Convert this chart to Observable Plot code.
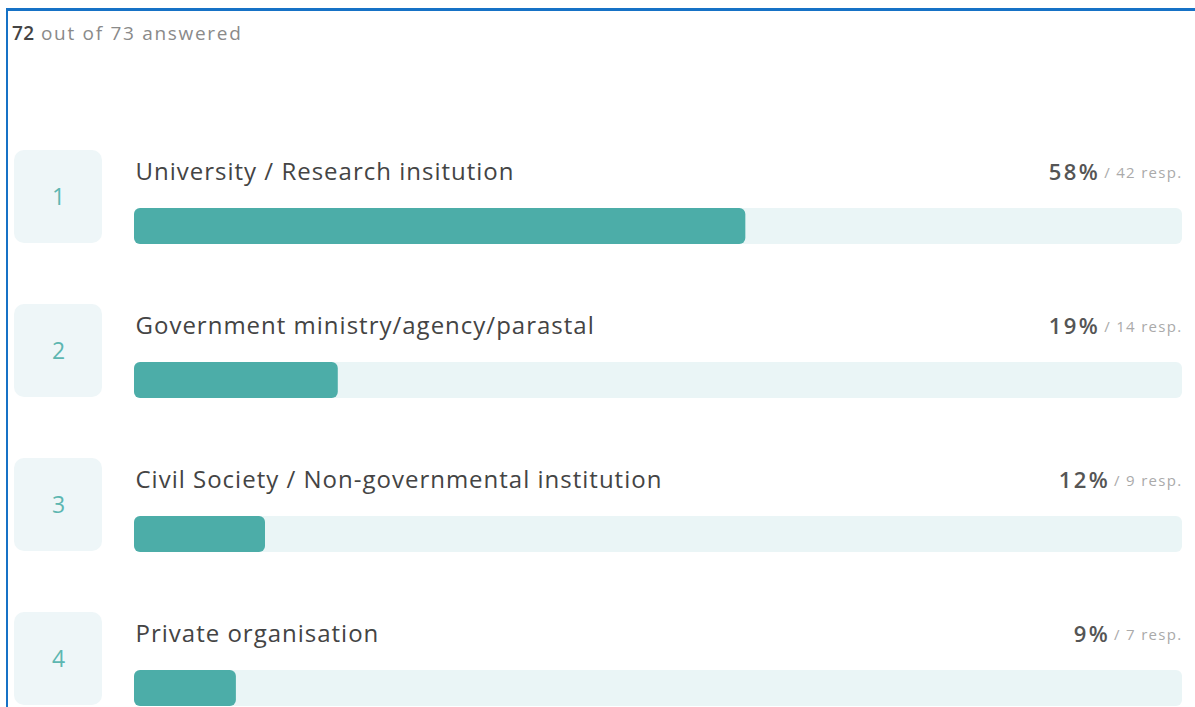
<!DOCTYPE html>
<html>
<head>
<meta charset="utf-8">
<script src="https://cdn.jsdelivr.net/npm/d3@7"></script>
<script src="https://cdn.jsdelivr.net/npm/@observablehq/plot@0.6"></script>
<style>
  html, body { margin: 0; padding: 0; background: #fff; width: 1195px; height: 707px; overflow: hidden; }
  body { font-family: "Open Sans", sans-serif; position: relative; }
  #frame { position: absolute; left: 6px; top: 8px; width: 1187px; height: 720px;
           border-top: 3px solid #1672c6; border-left: 2px solid #1672c6; pointer-events: none; z-index: 2; }
  #head { position: relative; height: 60px; }
  #answered { position: absolute; left: 12px; top: 20px; font-size: 19px; color: #8a8a8a; letter-spacing: 1.7px; }
  #answered b { color: #444; font-weight: 600; letter-spacing: 0.3px; }
  #chart { display: block; }
  svg [font-size="24"] { letter-spacing: 1.0px; }
  svg [font-size="15"] { letter-spacing: 1.3px; }
  svg [font-size="22"][font-weight="600"] { letter-spacing: 2.4px; }
</style>
</head>
<body>
<div id="frame"></div>
<div id="head"><div id="answered"></div></div>
<div id="chart"></div>
<script>
const categories = [
  "University / Research insitution",
  "Government ministry/agency/parastal",
  "Civil Society / Non-governmental institution",
  "Private organisation"
];
const ranks = [1, 2, 3, 4];
const percents = [58, 19, 12, 9];
const responses = [42, 14, 9, 7];
const answered = 72;
const total = 73;

document.getElementById("answered").innerHTML =
  `<b>${answered}</b> out of ${total} answered`;

const rows = categories.map((label, i) => ({
  label,
  rank: ranks[i],
  pct: percents[i],
  resp: responses[i],
  share: responses[i] / answered * 100
}));

const FONT = '"Open Sans", sans-serif';
const ctx = document.createElement("canvas").getContext("2d");
ctx.font = `15px ${FONT}`;
const respText = d => `/ ${d.resp} resp.`;
const respWidth = d => ctx.measureText(respText(d)).width + respText(d).length * 1.3;

const teal = "#4cada8";
const track = "#eaf5f6";
const boxFill = "#eef6f8";

const pctMarks = rows.map(d => Plot.text([d], {
  x: () => 100, y: "label", text: d => `${d.pct}%`,
  textAnchor: "end", dy: -55, dx: -(respWidth(d) + 4),
  fontSize: 22, fontWeight: 600, fill: "#555"
}));

const chart = Plot.plot({
  width: 1195,
  height: 647,
  margin: 0,
  style: { fontFamily: FONT, background: "transparent" },
  x: { domain: [0, 100], range: [134, 1182], axis: null },
  y: { domain: categories, range: [90, 706], padding: 0, axis: null },
  marks: [
    // rank boxes
    Plot.barX(rows, {
      x1: () => 0, x2: () => 0, y: "label",
      insetLeft: -120, insetRight: 32, insetTop: 0, insetBottom: 61,
      rx: 10, fill: boxFill
    }),
    Plot.text(rows, {
      x: () => 0, y: "label", text: "rank", dx: -76, dy: -30,
      fontSize: 23, fill: "#5db6b1"
    }),
    // track
    Plot.barX(rows, {
      x1: () => 0, x2: () => 100, y: "label",
      insetTop: 58, insetBottom: 60, rx: 6, fill: track
    }),
    // value bar
    Plot.barX(rows, {
      x1: () => 0, x2: "share", y: "label",
      insetTop: 58, insetBottom: 60, rx: 6, fill: teal
    }),
    // labels
    Plot.text(rows, {
      x: () => 0, y: "label", text: "label", textAnchor: "start",
      dx: 1, dy: -55, fontSize: 24, fill: "#444"
    }),
    // resp text
    Plot.text(rows, {
      x: () => 100, y: "label", text: respText, textAnchor: "end",
      dx: 0, dy: -54, fontSize: 15, fill: "#aaa"
    }),
    ...pctMarks
  ]
});
document.getElementById("chart").appendChild(chart);
</script>
</body>
</html>
